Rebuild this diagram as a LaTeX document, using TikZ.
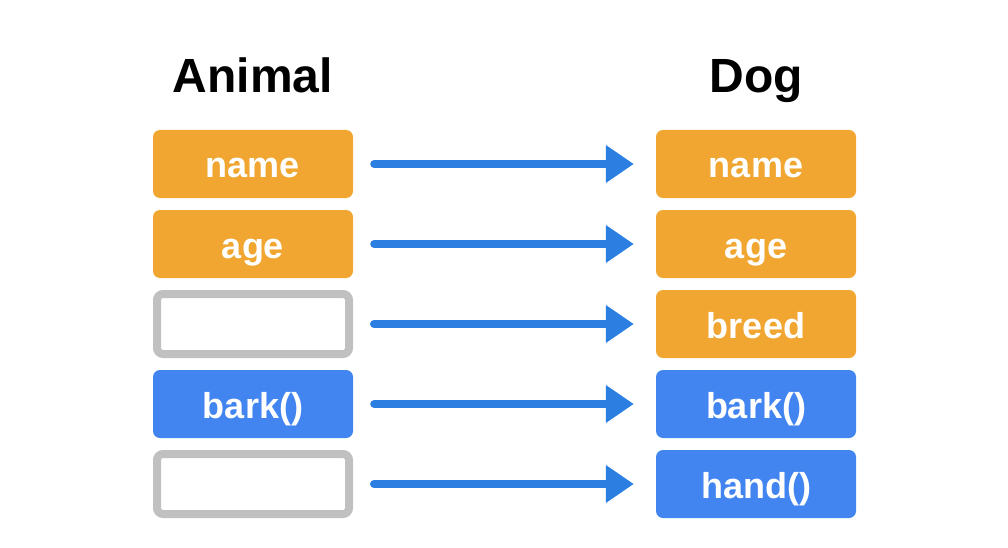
\documentclass[tikz,border=0pt]{standalone}
\usepackage{fontspec}
\setmainfont{Liberation Sans}
\usetikzlibrary{arrows.meta}
\definecolor{orng}{HTML}{F0A630}
\definecolor{bbox}{HTML}{4285F0}
\definecolor{arr}{HTML}{2B7FE0}
\definecolor{gry}{HTML}{C0C0C0}
\begin{document}
\begin{tikzpicture}[x=1pt,y=-1pt,
  fbox/.style={rounded corners=7pt, minimum width=200pt, minimum height=68pt, inner sep=0pt, text height=28pt, text depth=0pt, text=white, font=\fontsize{36}{40}\selectfont\bfseries},
  obox/.style={fbox, fill=orng},
  blbox/.style={fbox, fill=bbox},
  gbox/.style={rounded corners=6pt, draw=gry, line width=8pt, minimum width=192pt, minimum height=60pt, inner sep=0pt},
  ttl/.style={anchor=base, font=\fontsize{48}{52}\selectfont\bfseries, text=black},
  conn/.style={draw=arr, line width=8pt, line cap=round, -{Triangle[length=28pt,width=36pt]}}]
\useasboundingbox (0,0) rectangle (1008,548);
\node[ttl] (tA) at (253,93) {Animal};
\node[ttl] (tD) at (756,93) {Dog};
\node[obox] (a1) at (253,164) {name};
\node[obox] (a2) at (253,244) {age};
\node[gbox] (a3) at (253,324) {};
\node[blbox] (a4) at (253,404) {bark()};
\node[gbox] (a5) at (253,484) {};
\node[obox] (d1) at (756,164) {name};
\node[obox] (d2) at (756,244) {age};
\node[obox] (d3) at (756,324) {breed};
\node[blbox] (d4) at (756,404) {bark()};
\node[blbox] (d5) at (756,484) {hand()};
\foreach \i in {1,...,5}{
  \draw[conn] ([xshift=21pt]a\i.east) -- ([xshift=-22pt]d\i.west);
}
\end{tikzpicture}
\end{document}
